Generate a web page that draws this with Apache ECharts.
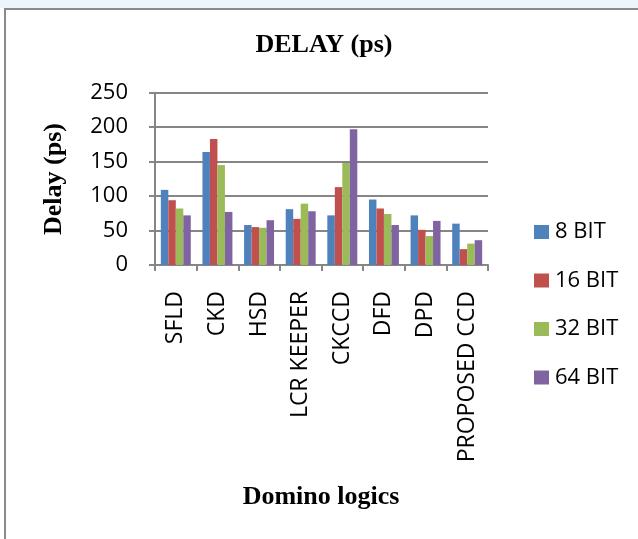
<!DOCTYPE html>
<html><head><meta charset="utf-8">
<script src="https://cdn.jsdelivr.net/npm/echarts@6/dist/echarts.min.js"></script>
<style>html,body{margin:0;padding:0;background:#fff}#c{width:638px;height:539px}</style>
</head><body><div id="c"></div>
<script>
var categories = ['SFLD','CKD','HSD','LCR KEEPER','CKCCD','DFD','DPD','PROPOSED CCD'];
var bit8  = [109,164,58,81,72,95,72,60];
var bit16 = [94,183,55,67,113,82,51,23];
var bit32 = [82,145,54,89,148,74,42,31];
var bit64 = [72,77,65,78,197,58,64,36];
var seriesNames = ['8 BIT','16 BIT','32 BIT','64 BIT'];
var colors = ['#4F81BD','#C0504D','#9BBB59','#8064A2'];
var yTicks = [0,50,100,150,200,250];

var chart = echarts.init(document.getElementById('c'));
var data = [bit8, bit16, bit32, bit64];
chart.setOption({
  animation:false,
  graphic:[
    {type:'rect', shape:{x:0,y:0,width:638,height:8}, style:{fill:'#eef5fa'}},
    {type:'rect', shape:{x:5,y:9,width:700,height:600}, style:{fill:'none',stroke:'#8a8a8a',lineWidth:2}},
    {type:'text', x:324, y:45, style:{text:'DELAY (ps)', font:'bold 26px "Liberation Serif"', fill:'#000', textAlign:'center', textVerticalAlign:'middle'}},
    {type:'text', x:321, y:497, style:{text:'Domino logics', font:'bold 26px "Liberation Serif"', fill:'#000', textAlign:'center', textVerticalAlign:'middle'}},
    {type:'text', x:54, y:179, rotation:Math.PI/2, style:{text:'Delay (ps)', font:'bold 26px "Liberation Serif"', fill:'#000', textAlign:'center', textVerticalAlign:'middle'}}
  ],
  legend:{
    orient:'vertical', left:529, top:216, itemGap:26.5, itemWidth:15, itemHeight:14,
    icon:'rect', data:seriesNames,
    textStyle:{fontFamily:'Open Sans', fontSize:22, color:'#000', padding:[0,0,0,1]}
  },
  grid:{left:155, right:150, top:92.7, bottom:274, containLabel:false},
  xAxis:{
    type:'category', data:categories, boundaryGap:true,
    axisLine:{lineStyle:{color:'#868686', width:2}},
    axisTick:{show:true, length:6, lineStyle:{color:'#868686', width:2}},
    axisLabel:{rotate:90, interval:0, margin:26, fontFamily:'Open Sans', fontSize:23, color:'#000'}
  },
  yAxis:{
    type:'value', min:0, max:250, interval:50,
    axisLine:{show:true, lineStyle:{color:'#868686', width:2}},
    axisTick:{show:true, length:6, lineStyle:{color:'#868686', width:2}},
    splitLine:{lineStyle:{color:'#868686', width:2}},
    axisLabel:{margin:27, fontFamily:'Open Sans', fontSize:22, color:'#000'}
  },
  series: data.map(function(d,i){
    return {name:seriesNames[i], type:'bar', data:d, barGap:'0%', barCategoryGap:'28%',
      itemStyle:{color:colors[i]}};
  })
});
</script></body></html>
